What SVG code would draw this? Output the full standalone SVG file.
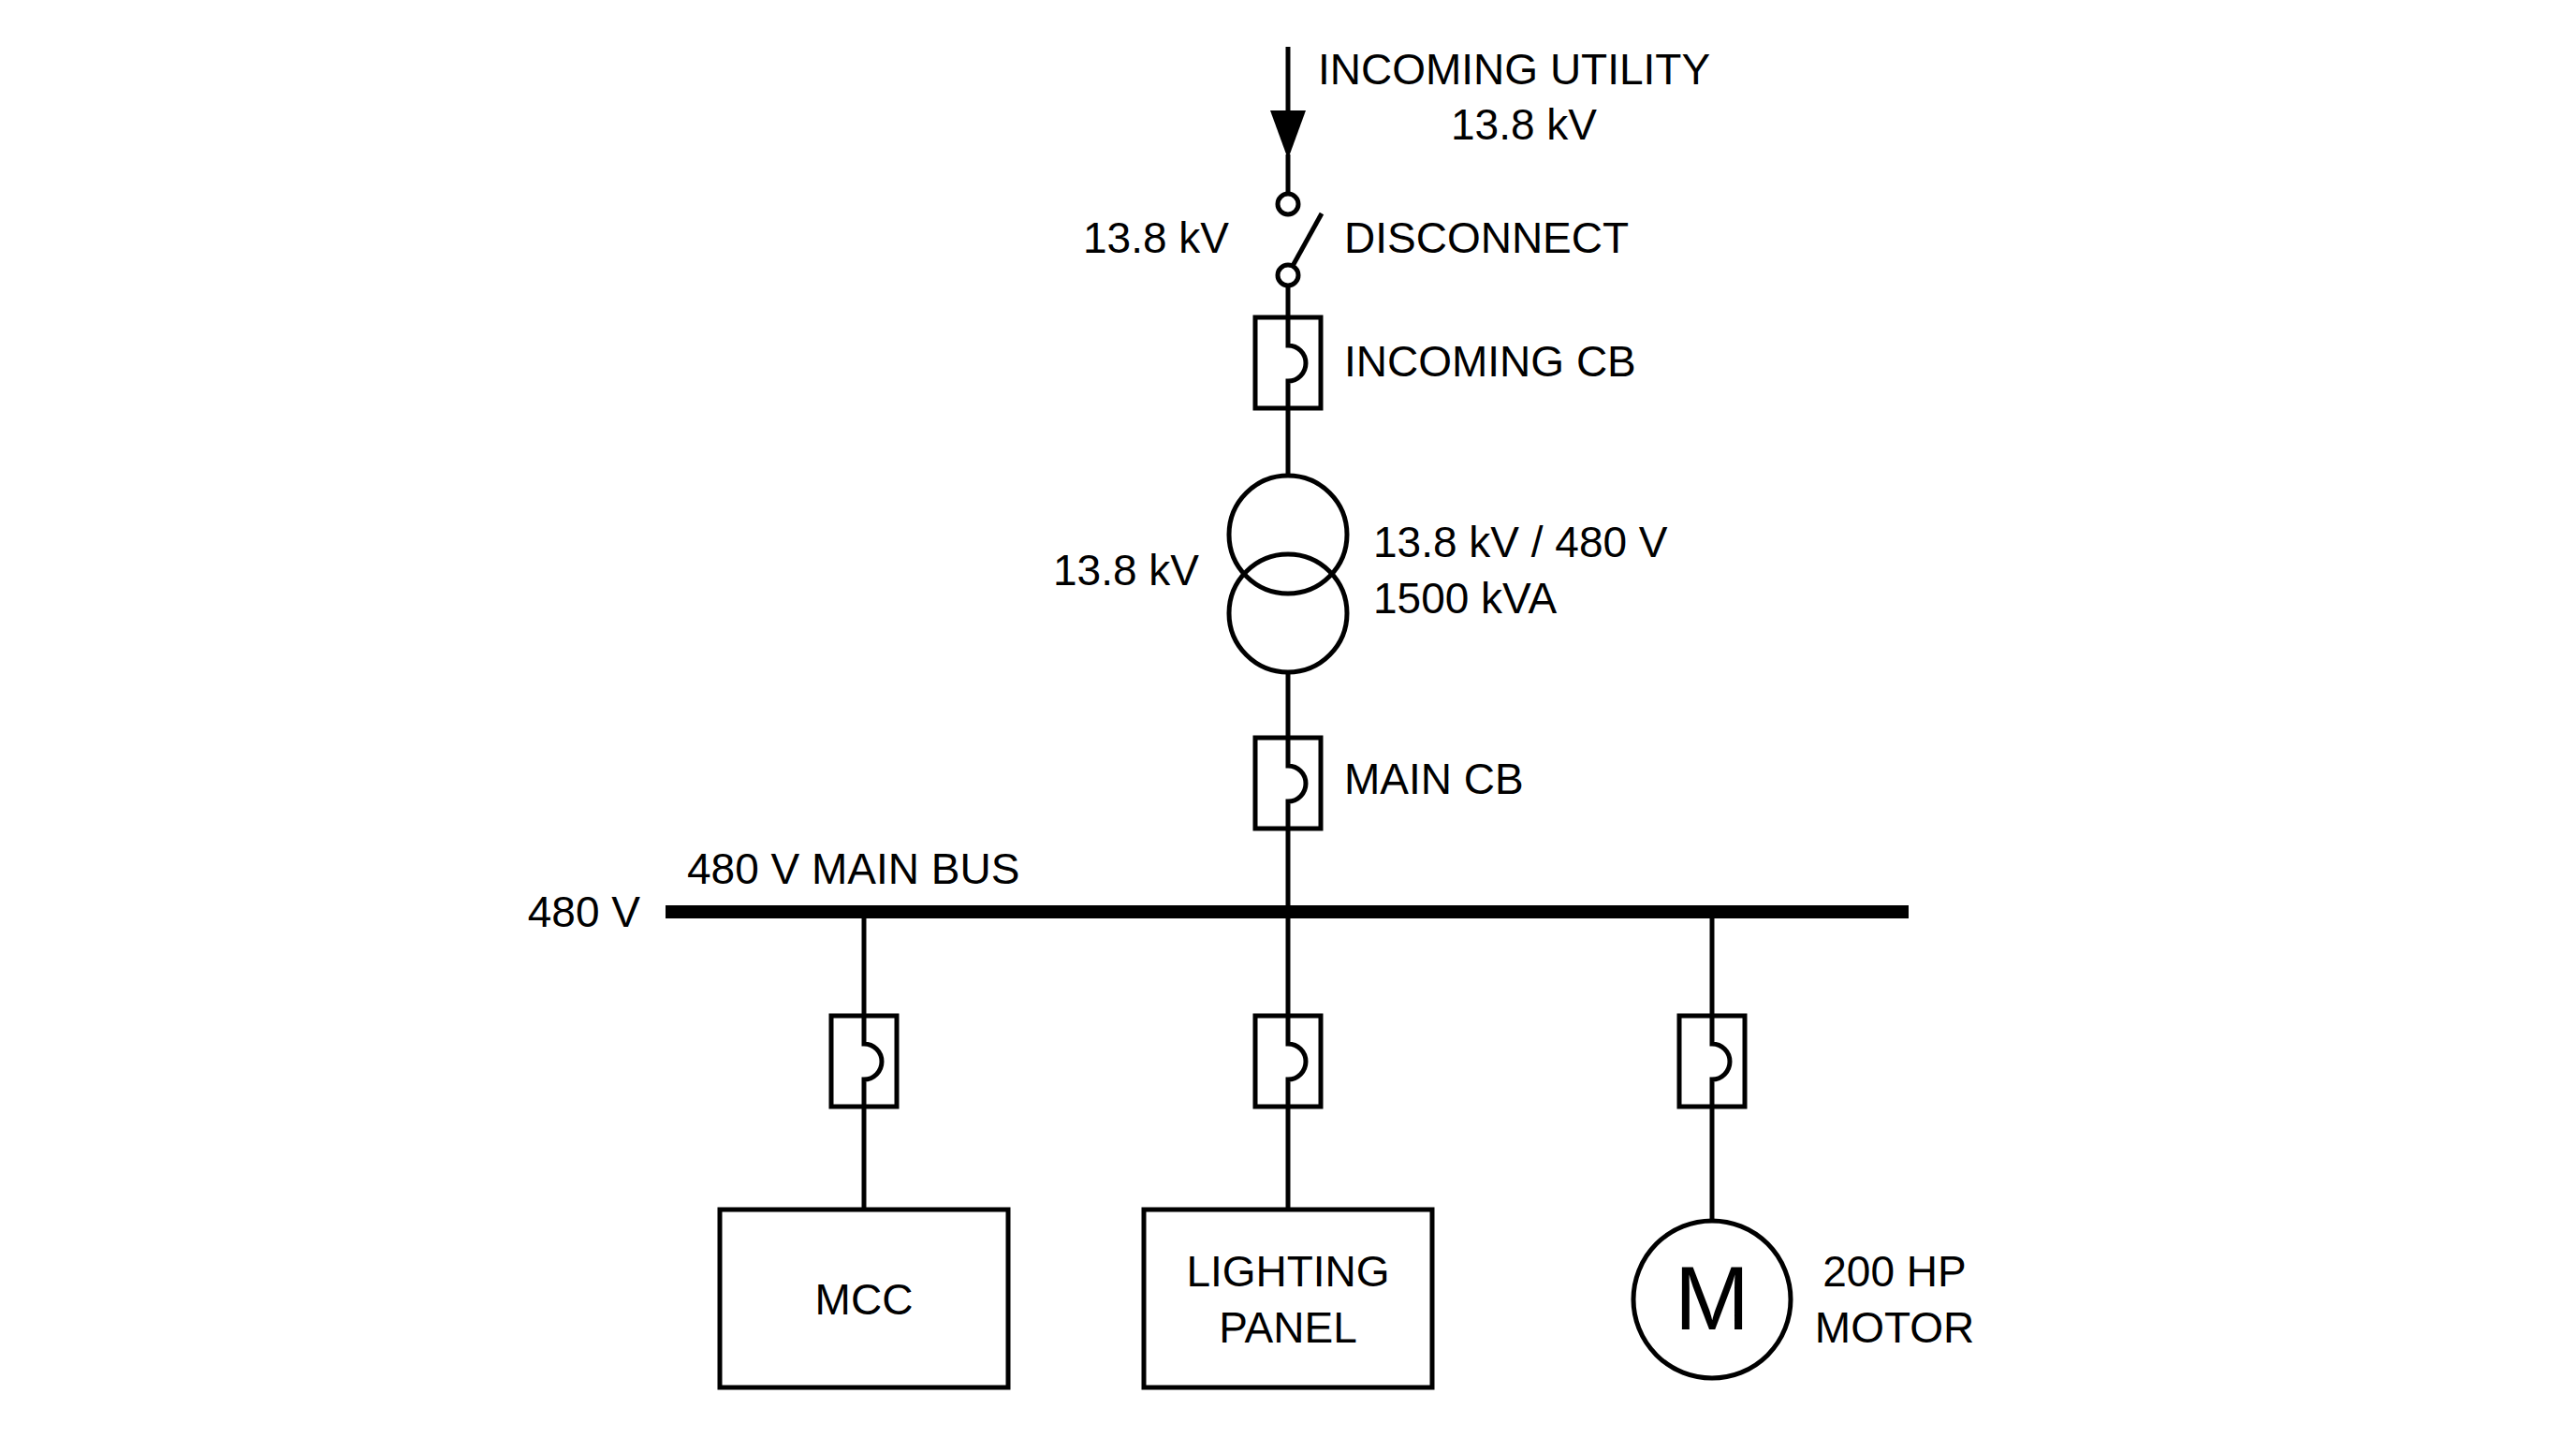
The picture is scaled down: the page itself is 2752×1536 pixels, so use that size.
<svg xmlns="http://www.w3.org/2000/svg" width="2752" height="1536" viewBox="0 0 2752 1536">
<style>
.l{stroke:#000;stroke-width:5;fill:none}
.t{font-family:"Liberation Sans",Arial,sans-serif;font-size:46px;fill:#000}
.m{text-anchor:middle}.e{text-anchor:end}
</style>
<defs>
<g id="cb"><rect x="-35" y="0" width="70" height="97" class="l"/><path d="M0,0 V30 A19,19 0 0 1 0,68 V97" class="l"/></g>
</defs>
<rect width="2752" height="1536" fill="#fff"/>
<g id="connectors">
<line x1="1376" y1="50" x2="1376" y2="130" class="l"/>
<polygon points="1357,118 1395,118 1376,170" fill="#000"/>
<line x1="1376" y1="165" x2="1376" y2="206" class="l"/>
<line x1="1376" y1="306" x2="1376" y2="339" class="l"/>
<line x1="1376" y1="436" x2="1376" y2="508" class="l"/>
<line x1="1376" y1="718" x2="1376" y2="788" class="l"/>
<line x1="1376" y1="885" x2="1376" y2="968" class="l"/>
<line x1="923" y1="974" x2="923" y2="1085" class="l"/>
<line x1="923" y1="1182" x2="923" y2="1292" class="l"/>
<line x1="1376" y1="974" x2="1376" y2="1085" class="l"/>
<line x1="1376" y1="1182" x2="1376" y2="1292" class="l"/>
<line x1="1829" y1="974" x2="1829" y2="1085" class="l"/>
<line x1="1829" y1="1182" x2="1829" y2="1304" class="l"/>
</g>
<g id="utility"><text x="1408" y="90" class="t">INCOMING UTILITY</text><text x="1628" y="149" class="t m">13.8 kV</text></g>
<g id="disconnect">
<circle cx="1376" cy="218" r="11" class="l"/><circle cx="1376" cy="294" r="11" class="l"/>
<line x1="1381" y1="284" x2="1412" y2="228" class="l"/>
<text x="1313" y="270" class="t e">13.8 kV</text><text x="1436" y="270" class="t">DISCONNECT</text>
</g>
<g id="incoming-cb"><use href="#cb" x="1376" y="339"/><text x="1436" y="402" class="t">INCOMING CB</text></g>
<g id="transformer">
<circle cx="1376" cy="571" r="63" class="l"/><circle cx="1376" cy="655" r="63" class="l"/>
<text x="1281" y="625" class="t e">13.8 kV</text>
<text x="1467" y="595" class="t">13.8 kV / 480 V</text><text x="1467" y="655" class="t">1500 kVA</text>
</g>
<g id="main-cb"><use href="#cb" x="1376" y="788"/><text x="1436" y="848" class="t">MAIN CB</text></g>
<g id="bus"><rect x="711" y="967" width="1328" height="14" fill="#000"/>
<text x="734" y="944" class="t">480 V MAIN BUS</text><text x="684" y="990" class="t e">480 V</text></g>
<g id="cb-mcc"><use href="#cb" x="923" y="1085"/></g>
<g id="cb-lp"><use href="#cb" x="1376" y="1085"/></g>
<g id="cb-motor"><use href="#cb" x="1829" y="1085"/></g>
<g id="mcc"><rect x="769" y="1292" width="308" height="190" class="l"/><text x="923" y="1404" class="t m">MCC</text></g>
<g id="lighting"><rect x="1222" y="1292" width="308" height="190" class="l"/><text x="1376" y="1374" class="t m">LIGHTING</text><text x="1376" y="1434" class="t m">PANEL</text></g>
<g id="motor"><circle cx="1829" cy="1388" r="84" class="l"/><text x="1829" y="1420" class="t m" style="font-size:96px">M</text>
<text x="2024" y="1374" class="t m">200 HP</text><text x="2024" y="1434" class="t m">MOTOR</text></g>
</svg>
